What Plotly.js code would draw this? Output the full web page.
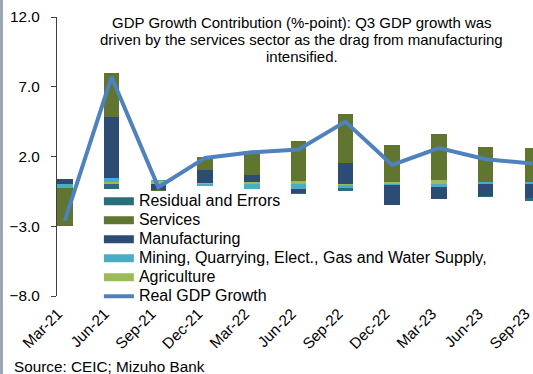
<!DOCTYPE html>
<html><head><meta charset="utf-8">
<script src="https://cdn.plot.ly/plotly-3.0.1.min.js"></script>
<style>
html,body{margin:0;padding:0;background:#fff}
#chart{width:533px;height:374px}
#edge{position:absolute;left:0;top:0;width:3px;height:374px;background:#9ba7b1;z-index:5}
</style>
</head><body>
<div id="chart"></div><div id="edge"></div>
<script>
// ---- data (percentage-point contributions) ----
const categories = ['Mar-21','Jun-21','Sep-21','Dec-21','Mar-22','Jun-22','Sep-22','Dec-22','Mar-23','Jun-23','Sep-23'];
const agriculture   = [0.0, 0.15, 0.25, 0.10, 0.17, 0.25, -0.05, 0.20, 0.30, 0.00, 0.00];
const mining        = [-0.27, 0.29, 0.05, -0.15, -0.35, -0.36, -0.20, -0.05, -0.20, 0.20, 0.16];
const manufacturing = [0.40, 4.36, -0.43, 0.90, 0.50, -0.24, 1.55, -1.45, -0.83, -0.83, -1.00];
const services      = [-2.70, 3.20, -0.05, 1.00, 1.75, 2.86, 3.50, 2.65, 3.30, 2.48, 2.48];
const residual      = [0.0, -0.30, 0.0, 0.0, 0.0, -0.07, -0.25, 0.0, -0.05, -0.07, -0.18];
const gdpGrowth     = [-2.6, 7.7, -0.2, 1.9, 2.3, 2.5, 4.5, 1.4, 2.6, 1.8, 1.5];
const yTicks = [-8, -3, 2, 7, 12];

const FONT = '"Liberation Sans", Arial, sans-serif';
const FS = 15.3;
const C = {
  residual: '#2a6e7b', services: '#5f7530', manufacturing: '#2c4c76',
  mining: '#4bacc6', agriculture: '#9bbb59', gdp: '#4f81bd'
};
const lg = t => '<span style="font-size:16px">' + t + '</span>';

function bar(name, vals, color) {
  return {type: 'bar', name: name, x: categories, y: vals, width: 0.33,
          marker: {color: color}, showlegend: false, hoverinfo: 'skip'};
}
function key(name, color, rank) {
  return {type: 'scatter', mode: 'lines', x: [null], y: [null], name: lg(name),
          line: {color: color, width: 8}, legendrank: rank, hoverinfo: 'skip'};
}

const data = [
  bar('Agriculture', agriculture, C.agriculture),
  bar('Mining, Quarrying, Elect., Gas and Water Supply,', mining, C.mining),
  bar('Manufacturing', manufacturing, C.manufacturing),
  bar('Services', services, C.services),
  bar('Residual and Errors', residual, C.residual),
  key('Residual and Errors', C.residual, 1),
  key('Services', C.services, 2),
  key('Manufacturing', C.manufacturing, 3),
  key('Mining, Quarrying, Elect., Gas and Water Supply,', C.mining, 4),
  key('Agriculture', C.agriculture, 5),
  {type: 'scatter', mode: 'lines', name: lg('Real GDP Growth'), x: categories, y: gdpGrowth,
   line: {color: C.gdp, width: 4}, legendrank: 6, hoverinfo: 'skip'}
];

const xr = [-0.167, 10.013];
const titleLines = [
  'GDP Growth Contribution (%-point): Q3 GDP growth was',
  'driven by the services sector as the drag from manufacturing',
  'intensified.'
];
// pixel centres 22.8, 39.6, 56.4 mapped to paper fraction of the 279.5px plot height
const titleY = [0.9792, 0.9191, 0.8590];
const annotations = titleLines.map((t, i) => ({
  text: t, xref: 'paper', yref: 'paper', x: 0.5147, y: titleY[i],
  xanchor: 'center', yanchor: 'middle', showarrow: false, borderpad: 0,
  font: {family: FONT, size: 15, color: '#000'}
}));
annotations.push({
  text: 'Source: CEIC; Mizuho Bank', xref: 'paper', yref: 'paper',
  x: -0.095, y: -0.254, xanchor: 'left', yanchor: 'middle', showarrow: false,
  font: {family: FONT, size: FS, color: '#000'}
});

const layout = {
  width: 533, height: 374,
  margin: {l: 57, r: 0, t: 17, b: 77.5, pad: 0},
  paper_bgcolor: '#fff', plot_bgcolor: 'rgba(0,0,0,0)',
  barmode: 'relative', bargap: 0,
  font: {family: FONT, size: FS, color: '#000'},
  showlegend: true,
  legend: {x: 0.088, y: 0.392, xanchor: 'left', yanchor: 'top',
           bgcolor: 'rgba(0,0,0,0)', borderwidth: 0,
           font: {family: FONT, size: 12.3, color: '#000'},
           tracegroupgap: 0},
  xaxis: {type: 'category', range: xr, showline: false, ticks: '', showgrid: false,
          zeroline: false, tickangle: -45, ticklabelshift: -7, ticklabelstandoff: 5,
          tickfont: {family: FONT, size: FS, color: '#000'}},
  xaxis2: {type: 'linear', overlaying: 'x', anchor: 'free', position: 0.4, range: xr,
           showline: true, linecolor: '#404040', linewidth: 1.5, ticks: 'outside',
           ticklen: 4, tickwidth: 1.5, tickcolor: '#222', tick0: -0.165, dtick: 1,
           showticklabels: false, showgrid: false, zeroline: false},
  yaxis: {range: [-8, 12], tickvals: yTicks, tickformat: '.1f', showline: true,
          linecolor: '#404040', linewidth: 1.2, ticks: 'outside', ticklen: 5,
          tickcolor: '#404040', showgrid: false, zeroline: false, ticklabelstandoff: 8,
          tickfont: {family: FONT, size: FS, color: '#000'}},
  annotations: annotations
};

Plotly.newPlot('chart', data, layout, {staticPlot: true, displayModeBar: false});
</script>
</body></html>
